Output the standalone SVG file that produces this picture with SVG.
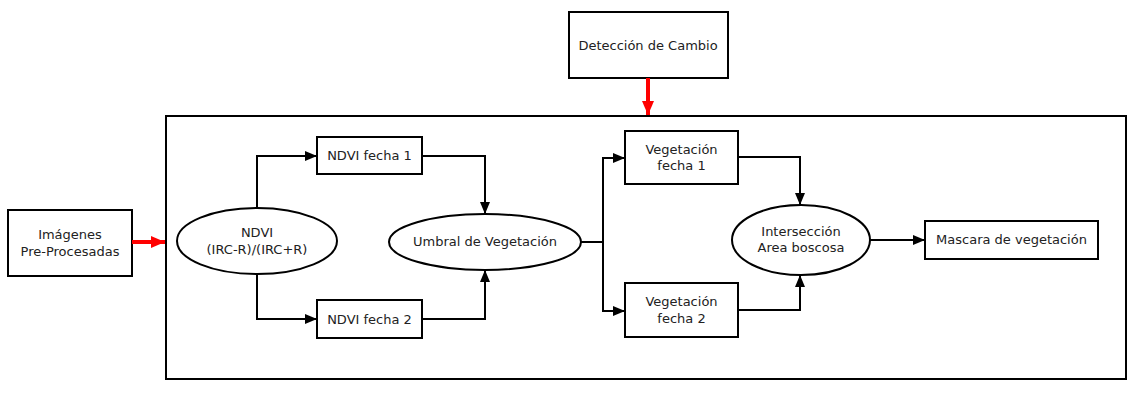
<svg xmlns="http://www.w3.org/2000/svg" width="1137" height="407" viewBox="0 0 1137 407">
<style>
.box{fill:#fff;stroke:#000;stroke-width:2}
.t{font-family:"DejaVu Sans",sans-serif;font-size:13px;fill:#222;text-anchor:middle}
.c{fill:none;stroke:#000;stroke-width:2}
.r{fill:none;stroke:#f00;stroke-width:4}
</style>
<defs>
<marker id="ah" markerWidth="12" markerHeight="10" refX="12" refY="5" orient="auto" markerUnits="userSpaceOnUse"><path d="M0,0 L12,5 L0,10 Z" fill="#000"/></marker>
<marker id="rh" markerWidth="14" markerHeight="12" refX="14" refY="6" orient="auto" markerUnits="userSpaceOnUse"><path d="M0,0 L14,6 L0,12 Z" fill="#f00"/></marker>
</defs>
<g id="container"><rect x="166" y="116" width="960" height="263" class="box" fill="none"/></g>
<g id="imagenes"><rect x="8" y="210" width="124" height="66" class="box"/><text class="t" x="70" y="239">Imágenes</text><text class="t" x="70" y="256">Pre-Procesadas</text></g>
<g id="deteccion"><rect x="569" y="12" width="159" height="66" class="box"/><text class="t" x="648" y="50">Detección de Cambio</text></g>
<g id="ndvi"><ellipse cx="257" cy="241" rx="80" ry="33" class="box"/><text class="t" x="257" y="237">NDVI</text><text class="t" x="257" y="254">(IRC-R)/(IRC+R)</text></g>
<g id="ndvi1"><rect x="317" y="137" width="105" height="37" class="box"/><text class="t" x="369.5" y="160">NDVI fecha 1</text></g>
<g id="ndvi2"><rect x="317" y="300" width="105" height="38" class="box"/><text class="t" x="369.5" y="324">NDVI fecha 2</text></g>
<g id="umbral"><ellipse cx="485" cy="242" rx="96" ry="28" class="box"/><text class="t" x="485" y="246">Umbral de Vegetación</text></g>
<g id="veg1"><rect x="625" y="131" width="113" height="53" class="box"/><text class="t" x="681.5" y="154">Vegetación</text><text class="t" x="681.5" y="170">fecha 1</text></g>
<g id="veg2"><rect x="625" y="283" width="113" height="54" class="box"/><text class="t" x="681.5" y="306">Vegetación</text><text class="t" x="681.5" y="323">fecha 2</text></g>
<g id="interseccion"><ellipse cx="801" cy="240" rx="69" ry="35" class="box"/><text class="t" x="801" y="236">Intersección</text><text class="t" x="801" y="252">Area boscosa</text></g>
<g id="mascara"><rect x="925" y="221" width="173" height="38" class="box"/><text class="t" x="1011.5" y="244">Mascara de vegetación</text></g>
<g id="connectors">
<path class="r" d="M132,242 H165" marker-end="url(#rh)"/>
<path class="r" d="M648,78 V115" marker-end="url(#rh)"/>
<path class="c" d="M257,208 V156 H317" marker-end="url(#ah)"/>
<path class="c" d="M257,274 V319 H317" marker-end="url(#ah)"/>
<path class="c" d="M422,156 H485 V214" marker-end="url(#ah)"/>
<path class="c" d="M422,319 H485 V270" marker-end="url(#ah)"/>
<path class="c" d="M581,242 H603 V158 H625" marker-end="url(#ah)"/>
<path class="c" d="M603,242 V311 H625" marker-end="url(#ah)"/>
<path class="c" d="M738,157 H800 V205" marker-end="url(#ah)"/>
<path class="c" d="M738,310 H800 V275" marker-end="url(#ah)"/>
<path class="c" d="M870,240 H925" marker-end="url(#ah)"/>
</g>
</svg>
